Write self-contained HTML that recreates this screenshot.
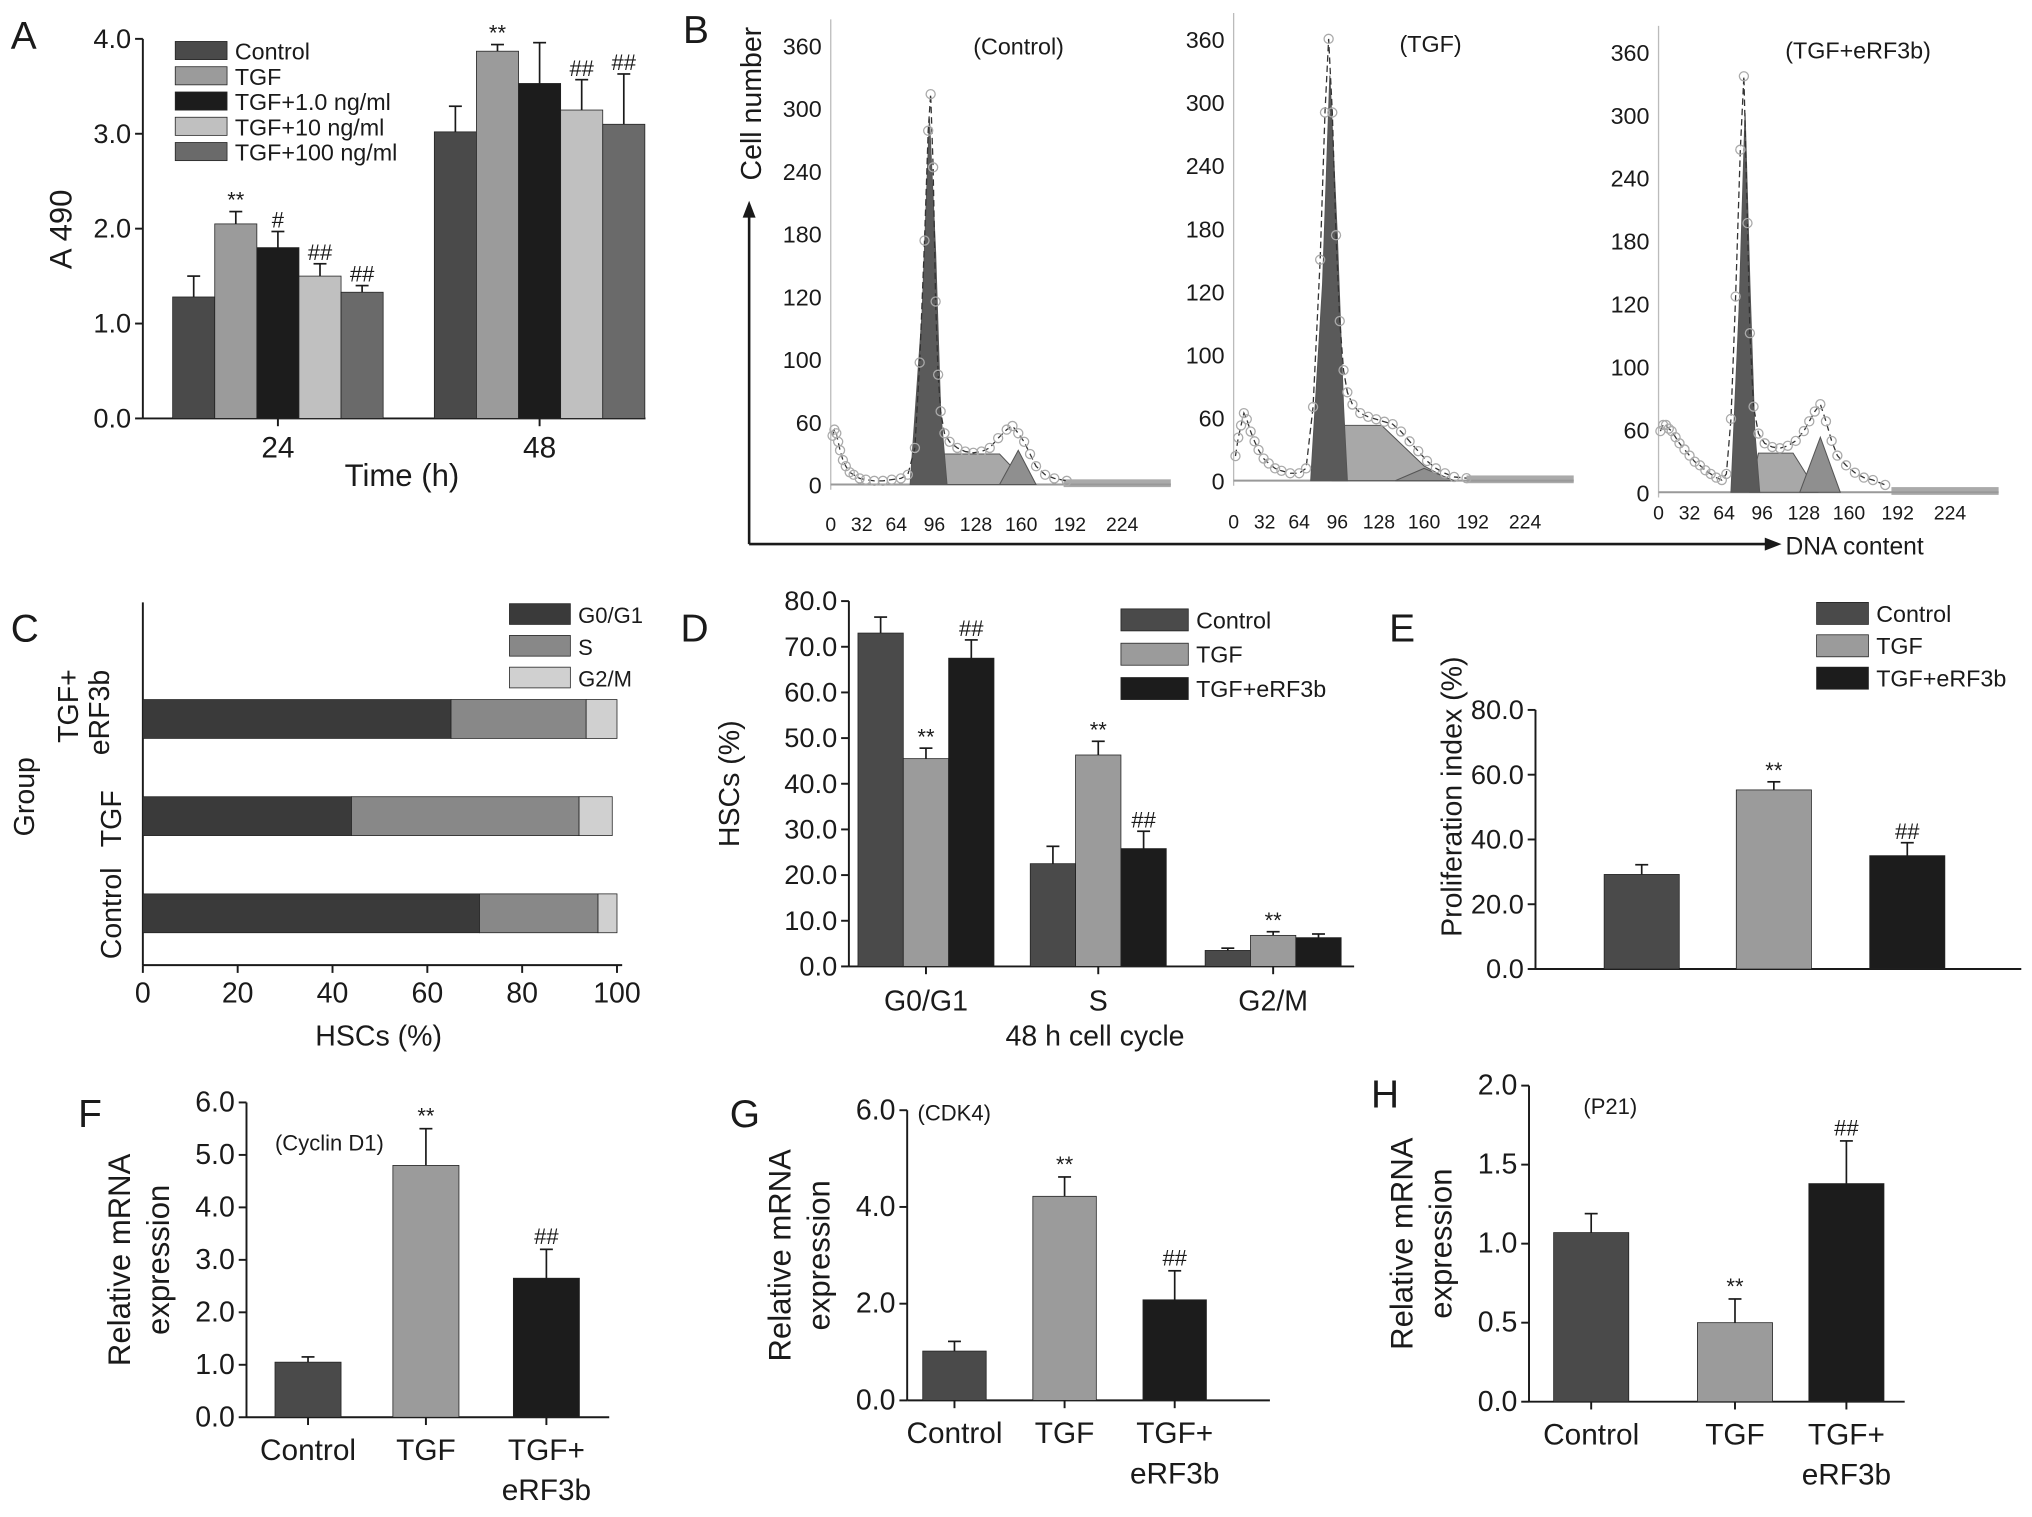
<!DOCTYPE html>
<html><head><meta charset="utf-8"><style>
html,body{margin:0;padding:0;background:#fff}
svg{display:block;font-family:"Liberation Sans",sans-serif}
</style></head><body>
<svg id="fig" width="2032" height="1517" viewBox="0 0 1568 1171" xmlns="http://www.w3.org/2000/svg"></svg>
<script>
// ---------- data ----------
const aCats=["24","48"];
const aSeries=["Control","TGF","TGF+1.0 ng/ml","TGF+10 ng/ml","TGF+100 ng/ml"];
const a24=[1.28,2.05,1.8,1.5,1.33], a24e=[0.22,0.13,0.17,0.13,0.07];
const a48=[3.02,3.87,3.53,3.25,3.1], a48e=[0.27,0.07,0.43,0.32,0.53];
const a24s=["","**","#","##","##"], a48s=["","**","","##","##"];
const aTicks=["0.0","1.0","2.0","3.0","4.0"];

const cCats=["TGF+eRF3b","TGF","Control"];
const cG1=[65,44,71], cS=[28.5,48,25], cG2=[6.5,7,4];
const cTicks=[0,20,40,60,80,100];

const dCats=["G0/G1","S","G2/M"];
const dCtrl=[73,22.5,3.5], dCtrlE=[3.5,3.8,0.5];
const dTGF=[45.5,46.3,6.8], dTGFE=[2.3,3,0.8];
const dERF=[67.5,25.8,6.3], dERFE=[4,3.8,0.8];
const dTGFs=["**","**","**"], dERFs=["##","##",""];
const dTicks=["0.0","10.0","20.0","30.0","40.0","50.0","60.0","70.0","80.0"];

const eVals=[29.2,55.3,35], eErr=[3,2.5,4], eSig=["","**","##"];
const eTicks=["0.0","20.0","40.0","60.0","80.0"];

const fVals=[1.05,4.8,2.65], fErr=[0.1,0.7,0.55];
const fTicks=["0.0","1.0","2.0","3.0","4.0","5.0","6.0"];
const gVals=[1.02,4.22,2.08], gErr=[0.2,0.4,0.6];
const gTicks=["0.0","2.0","4.0","6.0"];
const hVals=[1.07,0.5,1.38], hErr=[0.12,0.15,0.27];
const hTicks=["0.0","0.5","1.0","1.5","2.0"];
const sigFGH=["","**","##"];
const hSig=["","**","##"];

// flow histograms (channel, count)
const bCtrlG1=[[76,0],[86,140],[92,300],[97,190],[101,60],[106,0]];
const bCtrlS=[[98,0],[103,25],[145,25],[165,0]];
const bCtrlG2=[[145,0],[158,28],[170,0]];
const bCtrlDots=[[2,40],[4,45],[6,42],[8,35],[10,28],[13,20],[16,15],[20,10],[24,8],[30,5],[36,4],[44,3],[52,3],[60,4],[68,5],[74,8],[80,30],[84,100],[88,200],[91,290],[93,320],[95,260],[97,150],[99,90],[101,60],[104,42],[108,35],[114,30],[120,27],[126,26],[132,27],[138,30],[144,38],[150,45],[154,48],[158,42],[162,35],[166,25],[170,15],[176,8],[182,5],[190,3]];
const bTgfG1=[[74,0],[84,160],[90,330],[96,200],[101,60],[104,0]];
const bTgfS=[[92,0],[100,45],[130,45],[160,12],[178,0]];
const bTgfG2=[[140,0],[160,10],[180,0]];
const bTgfDots=[[2,20],[5,35],[8,45],[11,55],[14,50],[18,40],[22,32],[26,25],[31,18],[36,14],[42,10],[48,8],[56,6],[64,6],[70,10],[76,60],[82,180],[86,300],[89,360],[92,300],[95,200],[98,130],[101,90],[104,72],[108,62],[114,55],[120,52],[126,50],[132,48],[138,46],[144,40],[150,32],[156,24],[162,16],[168,10],[174,6],[180,3],[188,2]];
const bErfG1=[[70,0],[77,150],[82,310],[86,170],[90,50],[94,0]];
const bErfS=[[86,0],[93,32],[120,32],[138,0]];
const bErfG2=[[125,0],[140,45],[154,0]];
const bErfDots=[[2,50],[5,55],[8,55],[11,52],[14,50],[18,45],[22,40],[27,35],[32,30],[37,25],[42,22],[47,18],[52,15],[57,12],[62,10],[66,15],[70,60],[74,160],[78,280],[81,340],[84,220],[86,130],[89,70],[93,48],[98,40],[104,37],[110,36],[116,38],[122,42],[128,50],[132,58],[136,66],[140,72],[144,58],[148,42],[152,30],[158,22],[164,16],[170,12],[176,10],[184,6]];

// ---------- helpers ----------
const svg=document.getElementById('fig');
const NS="http://www.w3.org/2000/svg";
function mk(tag,attrs,parent,txt){const e=document.createElementNS(NS,tag);for(const k in attrs)e.setAttribute(k,attrs[k]);if(txt!==undefined)e.textContent=txt;(parent||svg).appendChild(e);return e;}
function grp(name){const g=mk('g',{});


return g;}
function txt(g,x,y,s,size,anchor,name,extra){const t=mk('text',Object.assign({x:x,y:y,'font-size':size,'text-anchor':anchor||'middle',fill:'#1a1a1a'},extra||{}),g,s);


return t;}
function line(g,x1,y1,x2,y2,w){return mk('line',{x1,y1,x2,y2,stroke:'#1a1a1a','stroke-width':w||1.5},g);}
function rect(g,x,y,w,h,fill,name){const r=mk('rect',{x,y,width:w,height:h,fill:fill,stroke:'#222','stroke-width':0.6},g);


return r;}
function vAxis(g,x,y0,y1,ticks,fs,labelX){const n=ticks.length-1;line(g,x,y0,x,y1);
ticks.forEach((t,i)=>{const y=y0+(y1-y0)*i/n;line(g,x-6,y,x,y);txt(g,labelX!==undefined?labelX:x-9,y+7,t,fs,'end','y-tick-label');});}
function errBar(g,cx,yTop,yErr){line(g,cx,yTop,cx,yErr,1.3);line(g,cx-5,yErr,cx+5,yErr,1.3);}
const COL=['#4a4a4a','#9b9b9b','#1c1c1c','#c0c0c0','#6a6a6a'];

// ---------- Panel A ----------
(function(){const g=grp('panel-a');
txt(g,8,38,'A',30,'start','panel-label-a');
const y0=323,y1=30,yv=v=>y0-(y0-y1)*v/4;
vAxis(g,110,y0,y1,aTicks,21);
line(g,110,y0,498,y0);
const starts=[133,335],bw=32.5;
[[a24,a24e,a24s],[a48,a48e,a48s]].forEach((d,gi)=>{
 d[0].forEach((v,i)=>{const x=starts[gi]+i*bw;rect(g,x,yv(v),bw,y0-yv(v),COL[i],'bar-'+aCats[gi]+'-'+i);
 const ye=yv(v+d[1][i]);errBar(g,x+bw/2,yv(v),ye);if(d[2][i])txt(g,x+bw/2,ye-3,d[2][i],17,'middle','significance-mark');});
 const cx=starts[gi]+bw*2.5;line(g,cx,y0,cx,y0+6);txt(g,cx,353,aCats[gi],23,'middle','x-tick-label');});
txt(g,310,375,'Time (h)',24,'middle','x-axis-title');
txt(g,55,177,'A 490',24,'middle','y-axis-title',{transform:'rotate(-90 55 177)'});
aSeries.forEach((s,i)=>{rect(g,135,32+i*19.5,40,14,COL[i],'legend-swatch');txt(g,181,46+i*19.5,s,18,'start','legend-entry');});
})();

// ---------- Panel B ----------
(function(){const g=grp('panel-b');
txt(g,527,33,'B',30,'start','panel-label-b');
line(g,578,420,578,165,2);mk('polygon',{points:'573,168 583,168 578,155',fill:'#1a1a1a'},g);
line(g,578,420,1365,420,2);mk('polygon',{points:'1362,415 1362,425 1375,420',fill:'#1a1a1a'},g);
txt(g,1378,428,'DNA content',19,'start','x-axis-title');
txt(g,587,80,'Cell number',22,'middle','y-axis-title',{transform:'rotate(-90 587 80)'});
const panels=[
 {x0:637,y0:374,y1:35,lbl:'(Control)',lx:786,ly:42,G1:bCtrlG1,S:bCtrlS,G2:bCtrlG2,D:bCtrlDots,ly0:403},
 {x0:948,y0:371,y1:30,lbl:'(TGF)',lx:1104,ly:40,G1:bTgfG1,S:bTgfS,G2:bTgfG2,D:bTgfDots,ly0:401},
 {x0:1276,y0:380,y1:40,lbl:'(TGF+eRF3b)',lx:1434,ly:45,G1:bErfG1,S:bErfS,G2:bErfG2,D:bErfDots,ly0:394}];
const yl=['0','60','100','120','180','240','300','360'];
panels.forEach((p,pi)=>{const sg=grp('flow-histogram-'+pi);g.appendChild(sg);
 const xs=c=>p.x0+4+c*0.705+c*c*0.001336, ys=v=>p.y0-(p.y0-p.y1)*v/360;
 mk('line',{x1:p.x0+4,y1:p.y0+4,x2:p.x0+4,y2:p.y1-20,stroke:'#bbb','stroke-width':1},sg);
 yl.forEach((t,i)=>txt(sg,p.x0-3,p.y0+7-(p.y0-p.y1)*i/7,t,18,'end','y-tick-label'));
 [0,32,64,96,128,160,192,224].forEach(v=>txt(sg,xs(v),p.ly0+7,String(v),15,'middle','x-tick-label'));
 txt(sg,p.lx,p.ly,p.lbl,18,'middle','histogram-title');
 mk('rect',{x:xs(188),y:ys(0)-4,width:xs(252)-xs(188),height:6,fill:'#aaa'},sg);
 mk('line',{x1:p.x0+4,y1:ys(0),x2:xs(252),y2:ys(0),stroke:'#999','stroke-width':1.5},sg);
 const poly=(arr,fill,name)=>{const e=mk('polygon',{points:arr.map(d=>xs(d[0])+','+ys(d[1])).join(' '),fill:fill,stroke:'#555','stroke-width':0.8},sg);
  
  };
 poly(p.S,'#a8a8a8','s-phase-area');poly(p.G2,'#8f8f8f','g2m-area');poly(p.G1,'#5a5a5a','g0g1-peak');
 mk('polyline',{points:p.D.map(d=>xs(d[0])+','+ys(d[1])).join(' '),fill:'none',stroke:'#333','stroke-width':1,'stroke-dasharray':'5,3'},sg);
 p.D.forEach(d=>{const c=mk('circle',{cx:xs(d[0]),cy:ys(d[1]),r:3.5,fill:'none',stroke:'#aaa','stroke-width':1},sg);
  
  });
});
})();

// ---------- Panel C ----------
(function(){const g=grp('panel-c');
txt(g,8,495,'C',30,'start','panel-label-c');
const x0=110,xv=v=>x0+v*3.66,y0=745;
line(g,x0,465,x0,y0);line(g,x0,y0,480,y0);
cTicks.forEach(t=>{line(g,xv(t),y0,xv(t),y0+6);txt(g,xv(t),774,String(t),22,'middle','x-tick-label');});
const cy=[555,630,705],ccol=['#3a3a3a','#888','#d0d0d0'];
cCats.forEach((c,i)=>{let acc=0;[cG1[i],cS[i],cG2[i]].forEach((v,j)=>{rect(g,xv(acc),cy[i]-15,v*3.66,30,ccol[j],'bar-'+c+'-'+j);acc+=v;});});
txt(g,292,807,'HSCs (%)',22,'middle','x-axis-title');
txt(g,26,615,'Group',22,'middle','y-axis-title',{transform:'rotate(-90 26 615)'});
txt(g,93,705,'Control',22,'middle','y-tick-label',{transform:'rotate(-90 93 705)'});
txt(g,93,632,'TGF',22,'middle','y-tick-label',{transform:'rotate(-90 93 632)'});
txt(g,60,545,'TGF+',22,'middle','y-tick-label',{transform:'rotate(-90 60 545)'});
txt(g,84,550,'eRF3b',22,'middle','y-tick-label',{transform:'rotate(-90 84 550)'});
['G0/G1','S','G2/M'].forEach((s,i)=>{rect(g,393,466+i*24.5,47,16,ccol[i],'legend-swatch');txt(g,446,481+i*24.5,s,17,'start','legend-entry');});
})();

// ---------- Panel D ----------
(function(){const g=grp('panel-d');
txt(g,525,495,'D',30,'start','panel-label-d');
const y0=746,y1=464,yv=v=>y0-(y0-y1)*v/80;
vAxis(g,655,y0,y1,dTicks,21);line(g,655,y0,1045,y0);
const st=[662,795,930],bw=35,cols=[COL[0],COL[1],COL[2]];
const S=[[dCtrl,dCtrlE,["","",""]],[dTGF,dTGFE,dTGFs],[dERF,dERFE,dERFs]];
dCats.forEach((c,gi)=>{S.forEach((s,si)=>{const x=st[gi]+si*bw,v=s[0][gi];rect(g,x,yv(v),bw,y0-yv(v),cols[si],'bar-'+c+'-'+si);
 const ye=yv(v+s[1][gi]);errBar(g,x+bw/2,yv(v),ye);if(s[2][gi])txt(g,x+bw/2,ye-3,s[2][gi],17,'middle','significance-mark');});
 const cx=st[gi]+bw*1.5;line(g,cx,y0,cx,y0+6);txt(g,cx,780,c,22,'middle','x-tick-label');});
txt(g,845,807,'48 h cell cycle',22,'middle','x-axis-title');
txt(g,570,605,'HSCs (%)',22,'middle','y-axis-title',{transform:'rotate(-90 570 605)'});
['Control','TGF','TGF+eRF3b'].forEach((s,i)=>{rect(g,865,470+i*26.5,52,17,cols[i],'legend-swatch');txt(g,923,485+i*26.5,s,18,'start','legend-entry');});
})();

// ---------- Panel E ----------
(function(){const g=grp('panel-e');
txt(g,1072,495,'E',30,'start','panel-label-e');
const y0=748,y1=548,yv=v=>y0-(y0-y1)*v/80;
vAxis(g,1185,y0,y1,eTicks,21);line(g,1185,y0,1560,y0);
const xs=[1238,1340,1443],bw=58;
eVals.forEach((v,i)=>{rect(g,xs[i],yv(v),bw,y0-yv(v),COL[i],'bar-e-'+i);const ye=yv(v+eErr[i]);errBar(g,xs[i]+bw/2,yv(v),ye);if(eSig[i])txt(g,xs[i]+bw/2,ye-3,eSig[i],17,'middle','significance-mark');});
txt(g,1128,615,'Proliferation index (%)',22,'middle','y-axis-title',{transform:'rotate(-90 1128 615)'});
['Control','TGF','TGF+eRF3b'].forEach((s,i)=>{rect(g,1402,465+i*25,40,17,COL[i],'legend-swatch');txt(g,1448,480+i*25,s,18,'start','legend-entry');});
})();

// ---------- Panels F,G,H ----------
function small(cfg){const g=grp('panel-'+cfg.id);
 txt(g,cfg.lx,cfg.ly,cfg.id.toUpperCase(),30,'start','panel-label-'+cfg.id);
 const yv=v=>cfg.y0-(cfg.y0-cfg.y1)*v/cfg.max;
 vAxis(g,cfg.ax,cfg.y0,cfg.y1,cfg.ticks,22);line(g,cfg.ax,cfg.y0,cfg.ax2,cfg.y0);
 cfg.vals.forEach((v,i)=>{const x=cfg.xs[i];rect(g,x,yv(v),cfg.bw,cfg.y0-yv(v),COL[i],'bar-'+cfg.id+'-'+i);
  const ye=yv(v+cfg.err[i]);errBar(g,x+cfg.bw/2,yv(v),ye);if(cfg.sig[i])txt(g,x+cfg.bw/2,ye-4,cfg.sig[i],17,'middle','significance-mark');
  const cx=x+cfg.bw/2;line(g,cx,cfg.y0,cx,cfg.y0+6);});
 const c=cfg.xs.map(x=>x+cfg.bw/2);
 txt(g,c[0],cfg.y0+33,'Control',23,'middle','x-tick-label');txt(g,c[1],cfg.y0+33,'TGF',23,'middle','x-tick-label');
 txt(g,c[2],cfg.y0+33,'TGF+',23,'middle','x-tick-label');txt(g,c[2],cfg.y0+64,'eRF3b',23,'middle','x-tick-label');
 txt(g,cfg.tx,cfg.ty,cfg.title,17,'start','chart-title');
 const yx=cfg.ax-90,ym=(cfg.y0+cfg.y1)/2;
 txt(g,yx,ym,'Relative mRNA',24,'middle','y-axis-title',{transform:'rotate(-90 '+yx+' '+ym+')'});
 txt(g,yx+30,ym,'expression',24,'middle','y-axis-title',{transform:'rotate(-90 '+(yx+30)+' '+ym+')'});
}
small({id:'f',lx:60,ly:870,ax:190,ax2:470,y0:1094,y1:851,max:6,ticks:fTicks,vals:fVals,err:fErr,sig:sigFGH,xs:[212,303,396],bw:51,tx:212,ty:888,title:'(Cyclin D1)'});
small({id:'g',lx:563,ly:870,ax:700,ax2:980,y0:1081,y1:857,max:6,ticks:gTicks,vals:gVals,err:gErr,sig:sigFGH,xs:[712,797,882],bw:49,tx:708,ty:865,title:'(CDK4)'});
small({id:'h',lx:1058,ly:855,ax:1180,ax2:1470,y0:1082,y1:838,max:2,ticks:hTicks,vals:hVals,err:hErr,sig:hSig,xs:[1199,1310,1396],bw:58,tx:1222,ty:860,title:'(P21)'});
</script>
</body></html>
